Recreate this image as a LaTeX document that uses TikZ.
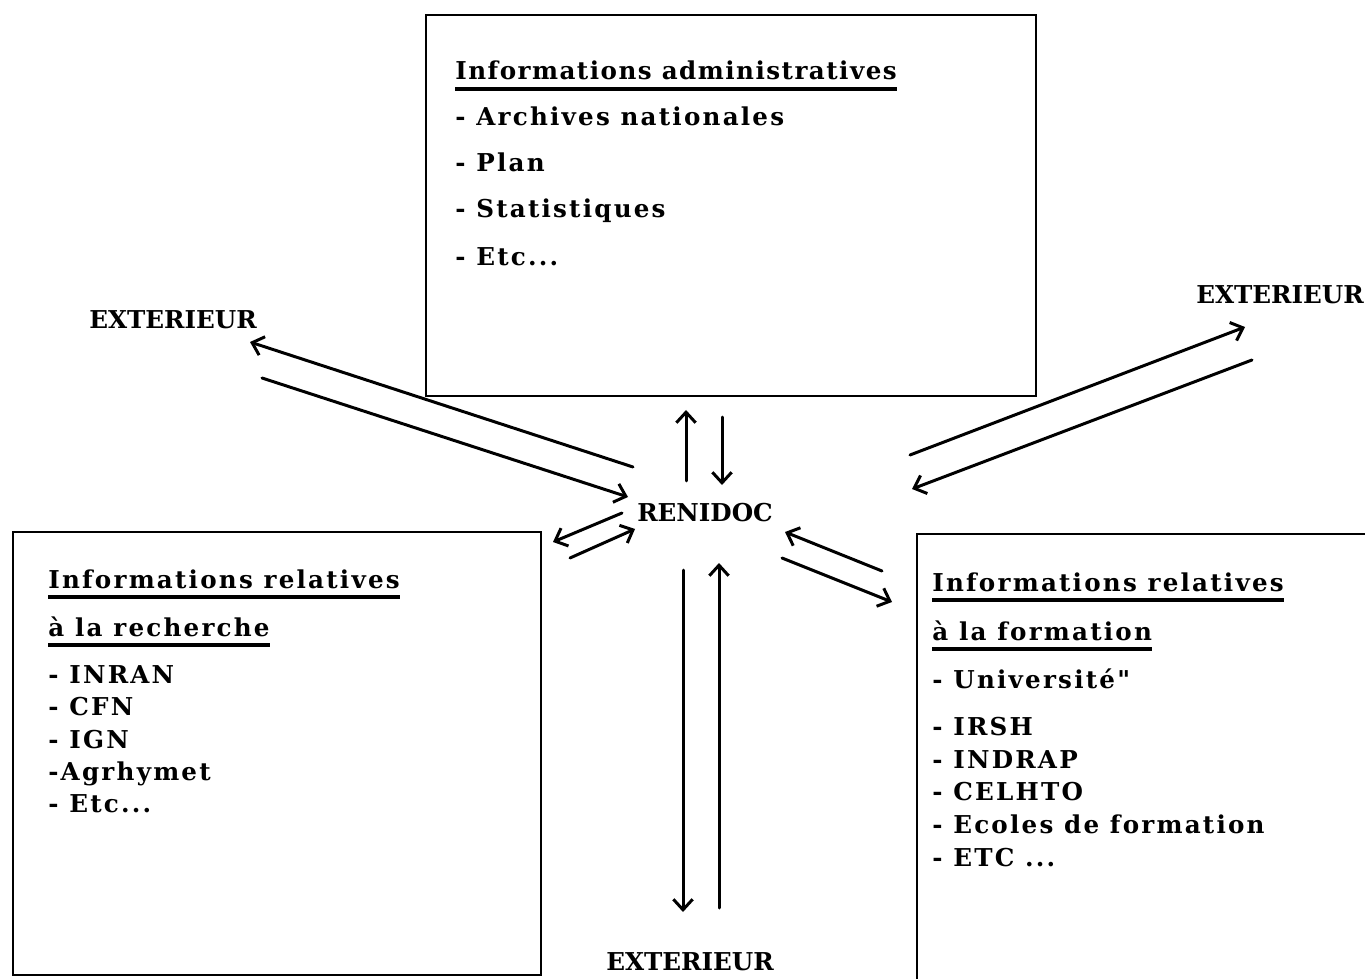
\documentclass[tikz,border=0pt]{standalone}
\usepackage{fontspec}
\setmainfont{DejaVu Serif}[Ligatures=TeXOff]
\usetikzlibrary{arrows.meta}
\begin{document}
\begin{tikzpicture}[x=0.02cm,y=-0.02cm,
  box/.style={draw, line width=1.4pt, inner sep=0, anchor=north west},
  txt/.style={anchor=base west, inner sep=0, font=\fontsize{14}{16}\selectfont\bfseries\addfontfeatures{LetterSpace=9}},
  txtb/.style={anchor=base west, inner sep=0, font=\fontsize{14}{16}\selectfont\bfseries\addfontfeatures{LetterSpace=6}},
  lab/.style={anchor=center, inner sep=0, font=\fontsize{14}{16}\selectfont\bfseries},
  ul/.style={line width=2pt},
  flow/.style={line width=1.7pt, line cap=round, -{Straight Barb[length=6pt,width=11pt,line width=1.7pt]}}
]
\useasboundingbox (0,0) rectangle (1365,979);
\clip (0,0) rectangle (1365,979);

% boxes
\node[box, minimum width=12.2cm, minimum height=7.62cm] (admin) at (425,14) {};
\node[box, minimum width=10.56cm, minimum height=8.86cm] (rech) at (12,531) {};
\node[box, minimum width=10cm, minimum height=10cm] (form) at (916,533) {};

% top box text
\node[txtb] (a0) at (455,80) {Informations administratives};
\draw[ul] ([yshift=-5pt]a0.base west) -- ([yshift=-5pt]a0.base east);
\node[txt] (a1) at (455,126) {- Archives nationales};
\node[txt] (a2) at (455,172) {- Plan};
\node[txt] (a3) at (455,218) {- Statistiques};
\node[txt] (a4) at (455,266) {- Etc...};

% left box text
\node[txt] (r0) at (48,588) {Informations relatives};
\draw[ul] ([yshift=-5pt]r0.base west) -- ([yshift=-5pt]r0.base east);
\node[txt] (r1) at (48,636) {à la recherche};
\draw[ul] ([yshift=-5pt]r1.base west) -- ([yshift=-5pt]r1.base east);
\node[txt] (r2) at (48,683) {- INRAN};
\node[txt] (r3) at (48,715) {- CFN};
\node[txt] (r4) at (48,748) {- IGN};
\node[txt] (r5) at (48,780) {-Agrhymet};
\node[txt] (r6) at (48,812) {- Etc...};

% right box text
\node[txt] (f0) at (932,591) {Informations relatives};
\draw[ul] ([yshift=-5pt]f0.base west) -- ([yshift=-5pt]f0.base east);
\node[txt] (f1) at (932,640) {à la formation};
\draw[ul] ([yshift=-5pt]f1.base west) -- ([yshift=-5pt]f1.base east);
\node[txt] (f2) at (932,688) {- Université"};
\node[txt] (f3) at (932,735) {- IRSH};
\node[txt] (f4) at (932,768) {- INDRAP};
\node[txt] (f5) at (932,800) {- CELHTO};
\node[txt] (f6) at (932,833) {- Ecoles de formation};
\node[txt] (f7) at (932,866) {- ETC ...};

% labels
\node[lab] (ren) at (705,513) {RENIDOC};
\node[lab] (extL) at (173,320) {EXTERIEUR};
\node[lab] (extR) at (1280,295) {EXTERIEUR};
\node[lab] (extB) at (690,962) {EXTERIEUR};

% arrow end points
\coordinate (lA1) at (633,467); \coordinate (lA2) at (250,342);
\coordinate (lB1) at (262,378); \coordinate (lB2) at (628,497);
\coordinate (tU1) at (686,481); \coordinate (tU2) at (686,410);
\coordinate (tD1) at (722,417); \coordinate (tD2) at (722,485);
\coordinate (mL1) at (622,513); \coordinate (mL2) at (553,542);
\coordinate (mR1) at (570,558); \coordinate (mR2) at (635,529);
\coordinate (rI1) at (882,571); \coordinate (rI2) at (785,532);
\coordinate (rO1) at (782,558); \coordinate (rO2) at (892,602);
\coordinate (bD1) at (683,570); \coordinate (bD2) at (683,912);
\coordinate (bU1) at (719,908); \coordinate (bU2) at (719,563);
\coordinate (eU1) at (910,455); \coordinate (eU2) at (1245,327);
\coordinate (eD1) at (1252,360); \coordinate (eD2) at (912,489);

% connectors
\draw[flow] (lA1) -- (lA2);
\draw[flow] (lB1) -- (lB2);
\draw[flow] (tU1) -- (tU2);
\draw[flow] (tD1) -- (tD2);
\draw[flow] (mL1) -- (mL2);
\draw[flow] (mR1) -- (mR2);
\draw[flow] (rI1) -- (rI2);
\draw[flow] (rO1) -- (rO2);
\draw[flow] (bD1) -- (bD2);
\draw[flow] (bU1) -- (bU2);
\draw[flow] (eU1) -- (eU2);
\draw[flow] (eD1) -- (eD2);
\end{tikzpicture}
\end{document}
